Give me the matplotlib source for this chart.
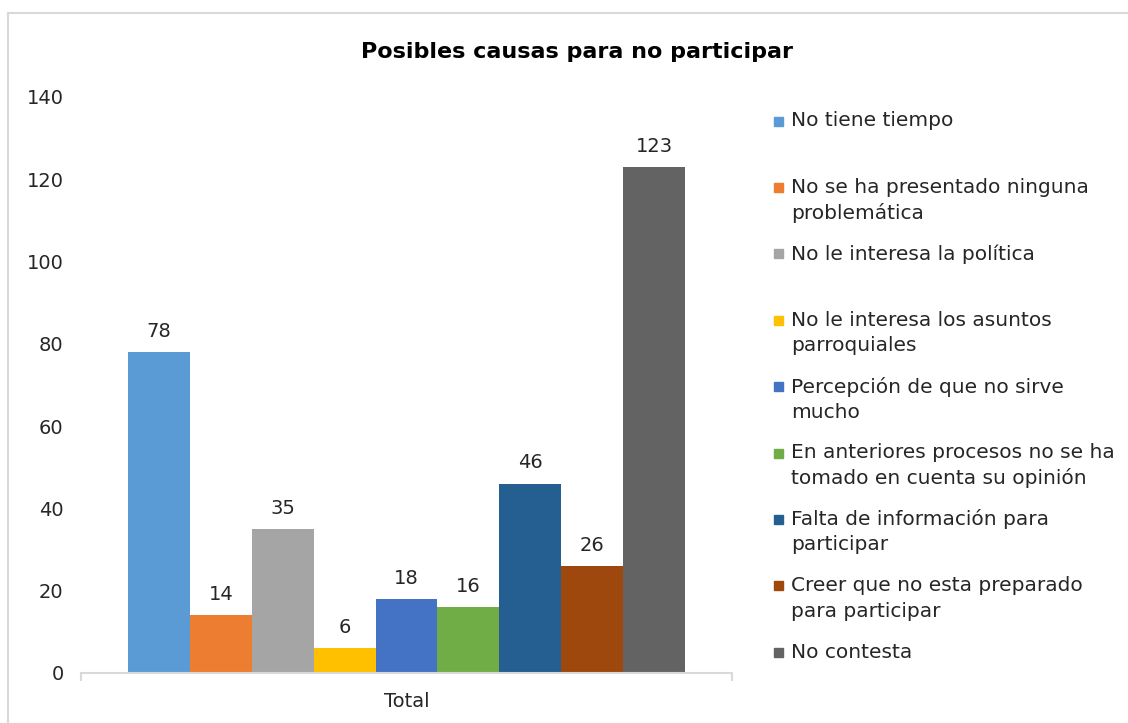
import matplotlib.pyplot as plt
from matplotlib.patches import Rectangle

# data
categoria = ['Total']
causas = ['No tiene tiempo',
          'No se ha presentado ninguna\nproblemática',
          'No le interesa la política',
          'No le interesa los asuntos\nparroquiales',
          'Percepción de que no sirve\nmucho',
          'En anteriores procesos no se ha\ntomado en cuenta su opinión',
          'Falta de información para\nparticipar',
          'Creer que no esta preparado\npara participar',
          'No contesta']
valores = [78, 14, 35, 6, 18, 16, 46, 26, 123]
colores = ['#5B9BD5', '#ED7D31', '#A5A5A5', '#FFC000', '#4472C4',
           '#70AD47', '#255E91', '#9E480E', '#636363']
yticks = [0, 20, 40, 60, 80, 100, 120, 140]

plt.rcParams['font.family'] = ['DejaVu Sans']
W, H = 1128, 723
fig = plt.figure(figsize=(W / 100, H / 100), dpi=100)
ax = fig.add_axes([81 / W, 1 - 673 / H, (732 - 81) / W, (673 - 97) / H])

n = len(valores)
pos = [i - (n - 1) / 2 for i in range(n)]
bars = ax.bar(pos, valores, width=1.0, color=colores)
for b, v in zip(bars, valores):
    ax.annotate(str(v), (b.get_x() + b.get_width() / 2, v), xytext=(0, 15),
                textcoords='offset points', ha='center', va='center',
                fontsize=14, color='#262626')

half = (n / 2) + 0.76
ax.set_xlim(-half, half)
ax.set_ylim(0, 140)
ax.set_yticks(yticks)
ax.set_xticks([0])
ax.set_xticklabels(categoria)
ax.set_xticks([-half, half], minor=True)
ax.tick_params(axis='x', which='major', length=0, pad=14, labelsize=14, labelcolor='#262626')
ax.tick_params(axis='x', which='minor', length=6, color='#D9D9D9', width=1.5)
ax.tick_params(axis='y', length=0, pad=12.5, labelsize=14, labelcolor='#262626')
for s in ['top', 'right', 'left']:
    ax.spines[s].set_visible(False)
ax.spines['bottom'].set_color('#D9D9D9')
ax.spines['bottom'].set_linewidth(1.5)

fig.text(577 / W, 1 - 52 / H, 'Posibles causas para no participar', ha='center',
         va='center', fontsize=16, fontweight='bold', color='black')

# legend drawn by hand so each entry keeps the fixed slot spacing
y0, step, lh = 121, 66.4, 25.5
for i, (lab, c) in enumerate(zip(causas, colores)):
    y = y0 + i * step
    fig.patches.append(Rectangle((774 / W, 1 - (y + 4.5) / H), 9 / W, 9 / H,
                                 transform=fig.transFigure, color=c))
    for k, line in enumerate(lab.split('\n')):
        fig.text(791 / W, 1 - (y + k * lh) / H, line, ha='left', va='center',
                 fontsize=14.5, color='#262626')

# chart border (top and left visible in the reference)
fig.add_artist(plt.Line2D([8 / W, 1], [1 - 13 / H, 1 - 13 / H], transform=fig.transFigure,
                          color='#D9D9D9', lw=1.5))
fig.add_artist(plt.Line2D([8 / W, 8 / W], [0, 1 - 13 / H], transform=fig.transFigure,
                          color='#D9D9D9', lw=1.5))

fig.savefig('out.png', dpi=100)
